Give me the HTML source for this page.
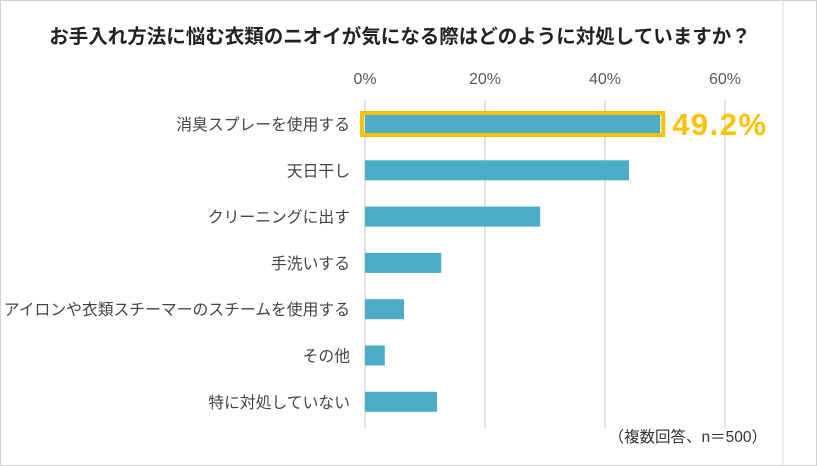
<!DOCTYPE html>
<html><head><meta charset="utf-8"><style>
body{margin:0;background:#fff;font-family:"Liberation Sans","Noto Sans CJK JP",sans-serif;}
#wrap{position:relative;width:817px;height:466px;overflow:hidden}
</style></head><body>
<div id="wrap">
<svg id="chart" width="817" height="466">
<rect x="0.5" y="0.5" width="816" height="465" fill="#fff" stroke="#d0d0d0"/>
<line x1="783" y1="0" x2="783" y2="466" stroke="#d9d9d9"/>
<text x="400" y="43" text-anchor="middle" font-size="19.5" font-weight="bold" fill="#222" font-family="Liberation Sans, Noto Sans CJK JP, sans-serif">お手入れ方法に悩む衣類のニオイが気になる際はどのように対処していますか？</text>
<text x="767" y="442" text-anchor="end" font-size="15.5" fill="#333" font-family="Liberation Sans, Noto Sans CJK JP, sans-serif">（複数回答、n＝500）</text>
</svg>
</div>
<script>
const categories=["消臭スプレーを使用する","天日干し","クリーニングに出す","手洗いする","アイロンや衣類スチーマーのスチームを使用する","その他","特に対処していない"];
const values=[49.2,44.0,29.2,12.7,6.5,3.3,12.0];
const ticks=[0,20,40,60];
const tickLabels=["0%","20%","40%","60%"];
const svg=document.getElementById('chart');
const NS="http://www.w3.org/2000/svg";
const x=v=>365+v*6.0;
const y=i=>124+i*46.3;
function mk(t,a){const e=document.createElementNS(NS,t);for(const k in a)e.setAttribute(k,a[k]);svg.appendChild(e);return e;}
ticks.forEach((t,i)=>{
 const g=mk('line',{x1:x(t),x2:x(t),y1:100,y2:428,stroke:'#d9d9d9','stroke-width':1.5});
 
 
 const l=mk('text',{x:x(t),y:84,'text-anchor':'middle','font-size':16,fill:'#595959'});
 l.textContent=tickLabels[i];
 
 
});
categories.forEach((c,i)=>{
 const l=mk('text',{x:350,y:y(i)+6,'text-anchor':'end','font-size':15.8,fill:'#444'});
 l.textContent=c;
 
 
 const b=mk('rect',{x:x(0),y:y(i)-10,width:x(values[i])-x(0),height:20,fill:'#4bacc6'});
 
 
});
const h=mk('rect',{x:x(0)-3,y:y(0)-11,width:x(values[0])-x(0)+6,height:22,fill:'none',stroke:'#ffc000','stroke-width':4});


const hl=mk('text',{x:x(values[0])+12,y:y(0)+11,'font-size':31,'font-weight':'bold',fill:'#ffc000','letter-spacing':1.5});
hl.textContent=values[0]+'%';


</script>
</body></html>
